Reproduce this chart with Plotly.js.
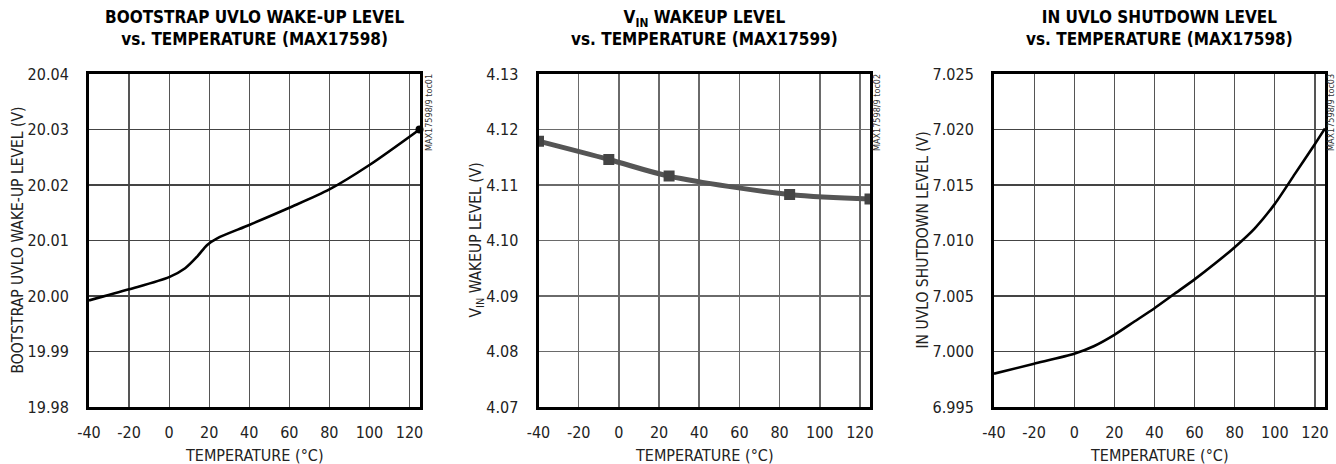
<!DOCTYPE html>
<html>
<head>
<meta charset="utf-8">
<script src="https://cdn.plot.ly/plotly-3.0.1.min.js"></script>
<style>html,body{margin:0;padding:0;background:#fff;}#chart{width:1336px;height:464px;}</style>
</head>
<body>
<div id="chart"></div>
<script>
// ---- Data ----
var tempTicks = [-40, -20, 0, 20, 40, 60, 80, 100, 120];
var tempTickLabels = ['-40', '-20', '0', '20', '40', '60', '80', '100', '120'];

// Chart 1: Bootstrap UVLO wake-up level (MAX17598)
var bootTemp = [-40, -20, 0, 8, 14, 19, 24, 40, 60, 80, 100, 125];
var bootLevel = [19.9992, 20.0012, 20.0034, 20.0050, 20.0071, 20.0092, 20.0104, 20.0128, 20.0159, 20.0192, 20.0236, 20.0300];
var bootEndTemp = [125];
var bootEndLevel = [20.0300];
var bootYTicks = [19.98, 19.99, 20.00, 20.01, 20.02, 20.03, 20.04];
var bootYLabels = ['19.98', '19.99', '20.00', '20.01', '20.02', '20.03', '20.04'];

// Chart 2: VIN wakeup level (MAX17599)
var vinTemp = [-40, -5, 25, 85, 125];
var vinLevel = [4.1179, 4.1146, 4.1116, 4.1083, 4.1075];
var vinYTicks = [4.07, 4.08, 4.09, 4.10, 4.11, 4.12, 4.13];
var vinYLabels = ['4.07', '4.08', '4.09', '4.10', '4.11', '4.12', '4.13'];

// Chart 3: IN UVLO shutdown level (MAX17598)
var shdnTemp = [-40, -20, 0, 10, 20, 30, 40, 50, 60, 70, 80, 90, 100, 110, 120, 125];
var shdnLevel = [6.9980, 6.9989, 6.9998, 7.0005, 7.0015, 7.0027, 7.0039, 7.0052, 7.0065, 7.0079, 7.0094, 7.0111, 7.0133, 7.0160, 7.0187, 7.0201];
var shdnYTicks = [6.995, 7.000, 7.005, 7.010, 7.015, 7.020, 7.025];
var shdnYLabels = ['6.995', '7.000', '7.005', '7.010', '7.015', '7.020', '7.025'];

var titles = [
  'BOOTSTRAP UVLO WAKE-UP LEVEL<br>vs. TEMPERATURE (MAX17598)',
  'V<sub>IN</sub> WAKEUP LEVEL<br>vs. TEMPERATURE (MAX17599)',
  'IN UVLO SHUTDOWN LEVEL<br>vs. TEMPERATURE (MAX17598)'
];
var yTitles = [
  'BOOTSTRAP UVLO WAKE-UP LEVEL (V)',
  'V<sub>IN</sub> WAKEUP LEVEL (V)',
  'IN UVLO SHUTDOWN LEVEL (V)'
];
var xTitle = 'TEMPERATURE (°C)';
var tocLabels = ['MAX17598/9 toc01', 'MAX17598/9 toc02', 'MAX17598/9 toc03'];

// ---- Layout helpers ----
var W = 1336, H = 464;
var FONT = '"Liberation Sans Narrow", "DejaVu Sans Condensed", "Arial Narrow", sans-serif';
var plotLeft = [89, 538.5, 994];
var plotRight = [419.5, 870, 1325];
var plotTop = 74, plotBottom = 407;
var yDom = [1 - plotBottom / H, 1 - plotTop / H];

function xAxis(i) {
  return {
    domain: [plotLeft[i] / W, plotRight[i] / W],
    range: [-40, 125],
    tickmode: 'array', tickvals: tempTicks, ticktext: tempTickLabels,
    showgrid: true, gridcolor: i === 1 ? '#6a6a6a' : '#555', gridwidth: i === 1 ? 1.6 : 1.2,
    zeroline: false,
    showline: true, linecolor: '#000', linewidth: 3, mirror: true,
    ticks: '', ticklabelstandoff: 9,
    tickfont: {family: FONT, size: 16, color: '#222'},
    anchor: 'y' + (i === 0 ? '' : (i + 1)),
    fixedrange: true
  };
}
function yAxis(i, ticks, labels) {
  return {
    domain: yDom,
    range: [ticks[0], ticks[ticks.length - 1]],
    tickmode: 'array', tickvals: ticks, ticktext: labels,
    showgrid: true, gridcolor: i === 1 ? '#6a6a6a' : '#444', gridwidth: i === 1 ? 1.8 : 1.2,
    zeroline: false,
    showline: true, linecolor: '#000', linewidth: 3, mirror: true,
    ticks: '', ticklabelstandoff: 14,
    tickfont: {family: FONT, size: 16, color: '#222'},
    anchor: 'x' + (i === 0 ? '' : (i + 1)),
    fixedrange: true
  };
}

var data = [
  {x: bootTemp, y: bootLevel, xaxis: 'x', yaxis: 'y', mode: 'lines',
   line: {color: '#000', width: 2.6, shape: 'spline', smoothing: 0.8}, hoverinfo: 'skip'},
  {x: bootEndTemp, y: bootEndLevel, xaxis: 'x', yaxis: 'y', mode: 'markers', cliponaxis: false,
   marker: {color: '#000', size: 8, symbol: 'circle'}, hoverinfo: 'skip'},
  {x: vinTemp, y: vinLevel, xaxis: 'x2', yaxis: 'y2', mode: 'lines+markers',
   line: {color: '#555', width: 5, shape: 'spline', smoothing: 0.9},
   marker: {color: '#444', size: 11, symbol: 'square'}, hoverinfo: 'skip'},
  {x: shdnTemp, y: shdnLevel, xaxis: 'x3', yaxis: 'y3', mode: 'lines',
   line: {color: '#000', width: 2.6, shape: 'spline', smoothing: 0.6}, hoverinfo: 'skip'}
];

var annotations = [];
var tocX = [429, 877, 1331];
for (var i = 0; i < 3; i++) {
  var cx = (plotLeft[i] + plotRight[i]) / 2;
  annotations.push({
    xref: 'paper', yref: 'paper', x: cx / W, y: 1 - 28 / H,
    xanchor: 'center', yanchor: 'middle', showarrow: false,
    text: '<b>' + titles[i] + '</b>',
    font: {family: FONT, size: 17, color: '#000'}
  });
  annotations.push({
    xref: 'paper', yref: 'paper', x: cx / W, y: 1 - 455 / H,
    xanchor: 'center', yanchor: 'middle', showarrow: false,
    text: xTitle, font: {family: FONT, size: 16, color: '#222'}
  });
  annotations.push({
    xref: 'paper', yref: 'paper', x: [18, 477, 923][i] / W, y: 1 - 240.5 / H,
    xanchor: 'center', yanchor: 'middle', showarrow: false, textangle: -90,
    text: yTitles[i], font: {family: FONT, size: 15.5, color: '#222'}
  });
  annotations.push({
    xref: 'paper', yref: 'paper', x: tocX[i] / W, y: 1 - 113 / H,
    xanchor: 'center', yanchor: 'middle', showarrow: false, textangle: -90,
    text: tocLabels[i], font: {family: FONT, size: 9, color: '#333'}
  });
}

var layout = {
  width: W, height: H,
  margin: {l: 0, r: 0, t: 0, b: 0},
  paper_bgcolor: '#fff', plot_bgcolor: '#fff',
  showlegend: false,
  xaxis: xAxis(0), xaxis2: xAxis(1), xaxis3: xAxis(2),
  yaxis: yAxis(0, bootYTicks, bootYLabels),
  yaxis2: yAxis(1, vinYTicks, vinYLabels),
  yaxis3: yAxis(2, shdnYTicks, shdnYLabels),
  annotations: annotations
};

Plotly.newPlot('chart', data, layout, {staticPlot: true, displayModeBar: false});
</script>
</body>
</html>
